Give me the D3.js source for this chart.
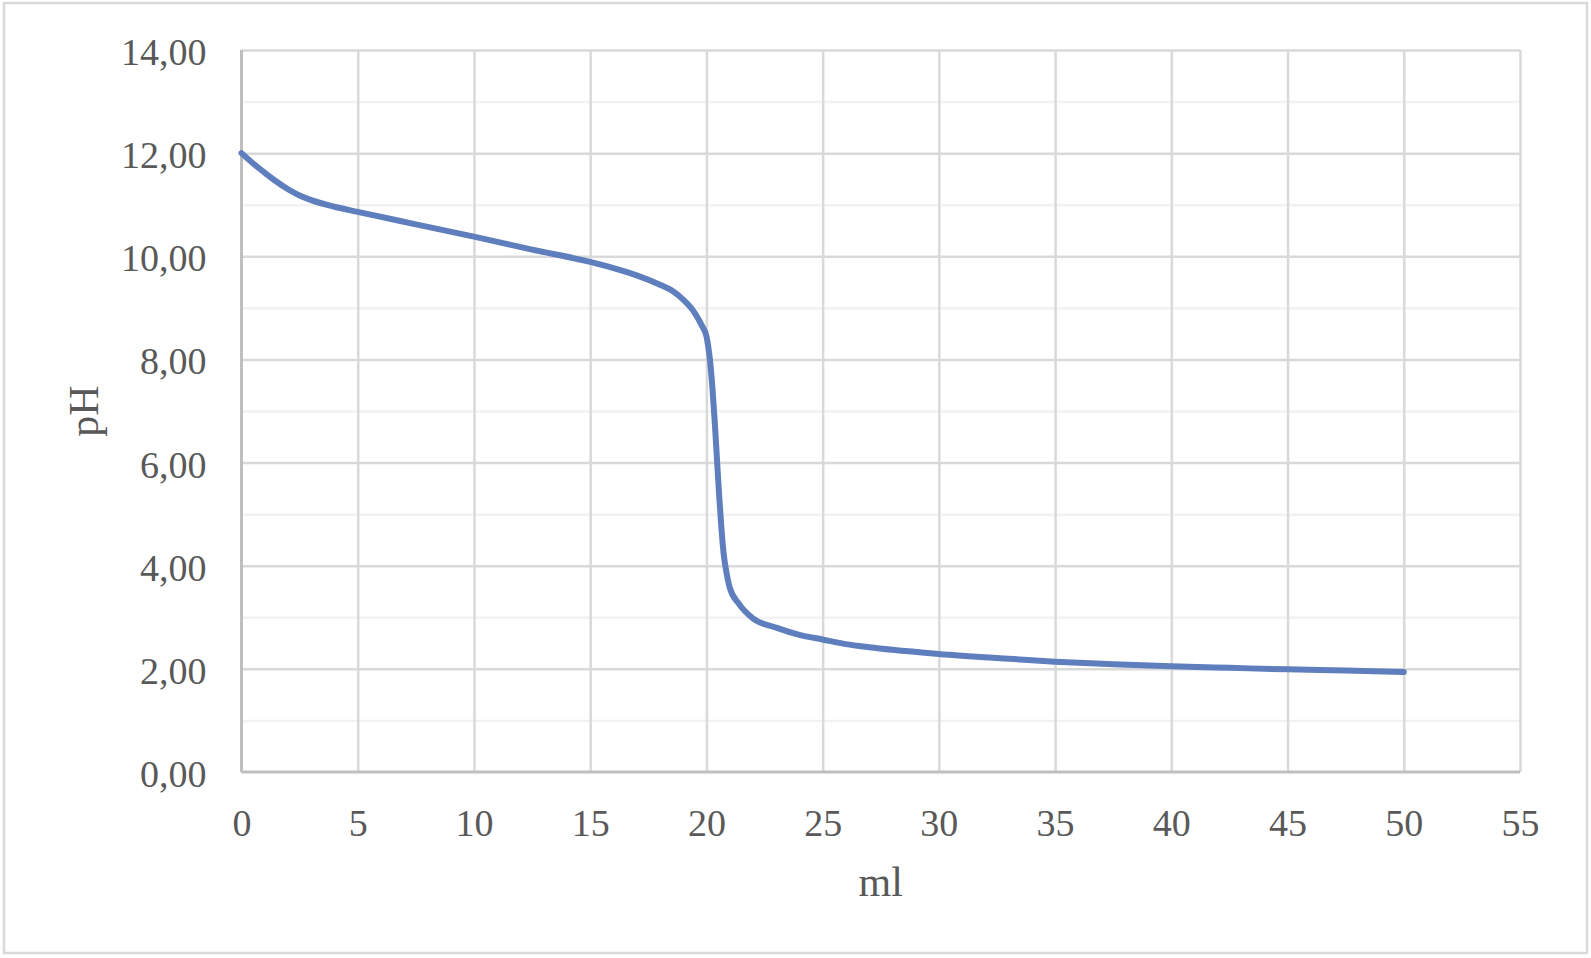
<!DOCTYPE html>
<html>
<head>
<meta charset="utf-8">
<script src="https://cdn.jsdelivr.net/npm/d3@7"></script>
<style>
  body { margin: 0; background: #fff; }
  text { font-family: "Liberation Serif", "DejaVu Serif", serif; fill: #595959; }
</style>
</head>
<body>
<div id="container"></div>
<script>
/* DATA */
const mlValues = [0, 0.5, 1, 1.5, 2, 2.5, 3, 4, 5, 7.5, 10, 12.5, 15, 16, 17, 18, 18.5, 19, 19.5, 19.8,
  20, 20.15, 20.25, 20.35, 20.45, 20.55, 20.65, 20.75, 20.85, 21, 21.4, 22, 23, 24, 25, 26, 27, 28,
  30, 32.5, 35, 37.5, 40, 42.5, 45, 47.5, 50]
const phValues = [12.00, 11.80, 11.62, 11.45, 11.30, 11.18, 11.09, 10.96, 10.86, 10.62, 10.38, 10.13, 9.89, 9.77, 9.63, 9.45, 9.34, 9.16, 8.90, 8.66,
  8.45, 8.00, 7.50, 6.85, 6.10, 5.35, 4.70, 4.20, 3.90, 3.58, 3.26, 2.98, 2.80, 2.66, 2.57, 2.48, 2.42, 2.37,
  2.29, 2.21, 2.14, 2.09, 2.05, 2.02, 1.99, 1.97, 1.94]
const xTicks = [0, 5, 10, 15, 20, 25, 30, 35, 40, 45, 50, 55]
const yTicks = [0, 2, 4, 6, 8, 10, 12, 14]
const yMinorTicks = [1, 3, 5, 7, 9, 11, 13]

const data = mlValues.map((ml, i) => ({ ml: ml, ph: phValues[i] }))

/* CONSTANTS */
const width = 1591,
  height = 958,
  margin = { top: 50, bottom: 186, left: 241.5, right: 71 }

// comma as decimal mark
const locale = d3.formatLocale({ decimal: ",", thousands: ".", grouping: [3], currency: ["", ""] })
const fmt = locale.format(".2f")

/* SCALES */
const xScale = d3.scaleLinear()
  .domain([0, 55])
  .range([margin.left, width - margin.right])

const yScale = d3.scaleLinear()
  .domain([0, 14])
  .range([height - margin.bottom, margin.top])

/* SVG */
const svg = d3.select("#container")
  .append("svg")
  .attr("width", width)
  .attr("height", height)

// chart border
svg.append("rect")
  .attr("x", 4)
  .attr("y", 3)
  .attr("width", 1583)
  .attr("height", 950)
  .attr("fill", "#fff")
  .attr("stroke", "#d9d9d9")
  .attr("stroke-width", 2.5)

// minor horizontal gridlines
svg.append("g")
  .attr("transform", `translate(${margin.left},0)`)
  .call(d3.axisLeft(yScale).tickValues(yMinorTicks)
    .tickSize(-(width - margin.left - margin.right)).tickFormat(""))
  .call(g => g.select(".domain").remove())
  .call(g => g.selectAll("line").attr("stroke", "#f2f2f2").attr("stroke-width", 2.5))

// major horizontal gridlines
svg.append("g")
  .attr("transform", `translate(${margin.left},0)`)
  .call(d3.axisLeft(yScale).tickValues(yTicks.slice(1))
    .tickSize(-(width - margin.left - margin.right)).tickFormat(""))
  .call(g => g.select(".domain").remove())
  .call(g => g.selectAll("line").attr("stroke", "#d9d9d9").attr("stroke-width", 2.5))

// vertical gridlines
svg.append("g")
  .attr("transform", `translate(0,${height - margin.bottom})`)
  .call(d3.axisBottom(xScale).tickValues(xTicks.slice(1))
    .tickSize(-(height - margin.top - margin.bottom)).tickFormat(""))
  .call(g => g.select(".domain").remove())
  .call(g => g.selectAll("line").attr("stroke", "#d9d9d9").attr("stroke-width", 2.5))

// axis lines
svg.append("line")
  .attr("x1", xScale(0)).attr("x2", xScale(55))
  .attr("y1", yScale(0)).attr("y2", yScale(0))
  .attr("stroke", "#bfbfbf").attr("stroke-width", 3)
svg.append("line")
  .attr("x1", xScale(0)).attr("x2", xScale(0))
  .attr("y1", yScale(0)).attr("y2", yScale(14))
  .attr("stroke", "#bfbfbf").attr("stroke-width", 3)

// x tick labels
svg.append("g")
  .attr("transform", `translate(0,${height - margin.bottom})`)
  .call(d3.axisBottom(xScale).tickValues(xTicks).tickSize(0))
  .call(g => g.select(".domain").remove())
  .call(g => g.selectAll("text")
    .attr("y", 63.5).attr("dy", null)
    .attr("font-family", null).attr("font-size", 38).attr("fill", "#595959"))

// y tick labels
svg.append("g")
  .attr("transform", `translate(${margin.left},0)`)
  .call(d3.axisLeft(yScale).tickValues(yTicks).tickSize(0).tickFormat(fmt))
  .call(g => g.select(".domain").remove())
  .call(g => g.selectAll("text")
    .attr("x", -35).attr("dy", 14.5)
    .attr("font-family", null).attr("font-size", 38).attr("fill", "#595959"))

// axis titles
svg.append("text")
  .attr("x", (xScale(0) + xScale(55)) / 2)
  .attr("y", 896)
  .attr("text-anchor", "middle")
  .attr("font-size", 42)
  .text("ml")

svg.append("text")
  .attr("transform", `translate(98,${(yScale(0) + yScale(14)) / 2}) rotate(-90)`)
  .attr("text-anchor", "middle")
  .attr("font-size", 42)
  .text("pH")

/* LINE */
const line = d3.line()
  .x(d => xScale(d.ml))
  .y(d => yScale(d.ph))
  .curve(d3.curveMonotoneX)

svg.append("path")
  .datum(data)
  .attr("d", line)
  .attr("fill", "none")
  .attr("stroke", "#5e7ebd")
  .attr("stroke-width", 6)
  .attr("stroke-linecap", "round")
  .attr("stroke-linejoin", "round")
</script>
</body>
</html>
